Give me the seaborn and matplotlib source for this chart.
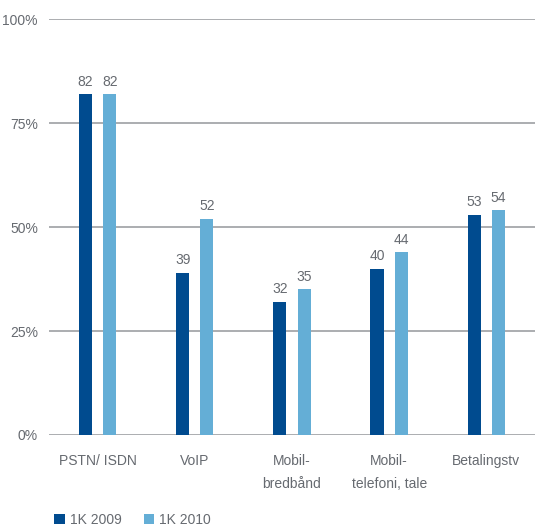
import matplotlib
matplotlib.use("Agg")
import matplotlib.pyplot as plt
import seaborn as sns
import pandas as pd
from matplotlib.patches import Patch

categories = ["PSTN/ ISDN", "VoIP", "Mobil-\nbredbånd", "Mobil-\ntelefoni, tale", "Betalingstv"]
series_names = ["1K 2009", "1K 2010"]
values_2009 = [82, 39, 32, 40, 53]
values_2010 = [82, 52, 35, 44, 54]
yticks = [0, 25, 50, 75, 100]
ytick_labels = ["0%", "25%", "50%", "75%", "100%"]

colors = ["#004b8f", "#64aed6"]
text_color = "#666a70"
grid_color = "#abadb0"

df = pd.DataFrame({
    "category": categories * 2,
    "series": [series_names[0]] * len(categories) + [series_names[1]] * len(categories),
    "value": values_2009 + values_2010,
})

sns.set_theme(style="white")
plt.rcParams["font.family"] = ["Liberation Sans", "DejaVu Sans"]

fig = plt.figure(figsize=(5.36, 5.29), dpi=100)
ax = fig.add_axes([0.0914, 0.1777, 0.9066, 0.7863])

sns.barplot(data=df, x="category", y="value", hue="series", order=categories,
            hue_order=series_names, palette=colors, width=0.5, ax=ax,
            legend=False, saturation=1)

bar_w = 0.135
for p in ax.patches:
    cx = p.get_x() + p.get_width() / 2
    p.set_x(cx - bar_w / 2)
    p.set_width(bar_w)
    p.set_edgecolor("none")
    h = p.get_height()
    ax.text(cx, h + 1.3, f"{h:.0f}", ha="center", va="bottom",
            fontsize=10, color=text_color)

ax.set_ylim(0, 100)
ax.set_xlim(-0.5, len(categories) - 0.5)
ax.set_yticks(yticks)
ax.set_yticklabels(ytick_labels)
for y in yticks:
    ax.axhline(y, color=grid_color, lw=1.4, zorder=0)

for s in ax.spines.values():
    s.set_visible(False)
ax.tick_params(axis="y", length=0, pad=8, labelsize=10, labelcolor=text_color)
ax.tick_params(axis="x", length=0, pad=14, labelsize=10, labelcolor=text_color)
for lbl in ax.get_xticklabels():
    lbl.set_linespacing(1.75)
    lbl.set_va("top")
ax.set_xlabel("")
ax.set_ylabel("")

handles = [Patch(facecolor=c, edgecolor="none") for c in colors]
fig.legend(handles, series_names, loc="lower left", bbox_to_anchor=(0.078, -0.02),
           ncol=2, frameon=False, fontsize=10, handlelength=0.75, handleheight=0.75,
           handletextpad=0.35, columnspacing=1.6, labelcolor=text_color)

fig.savefig("out.png", dpi=100)
